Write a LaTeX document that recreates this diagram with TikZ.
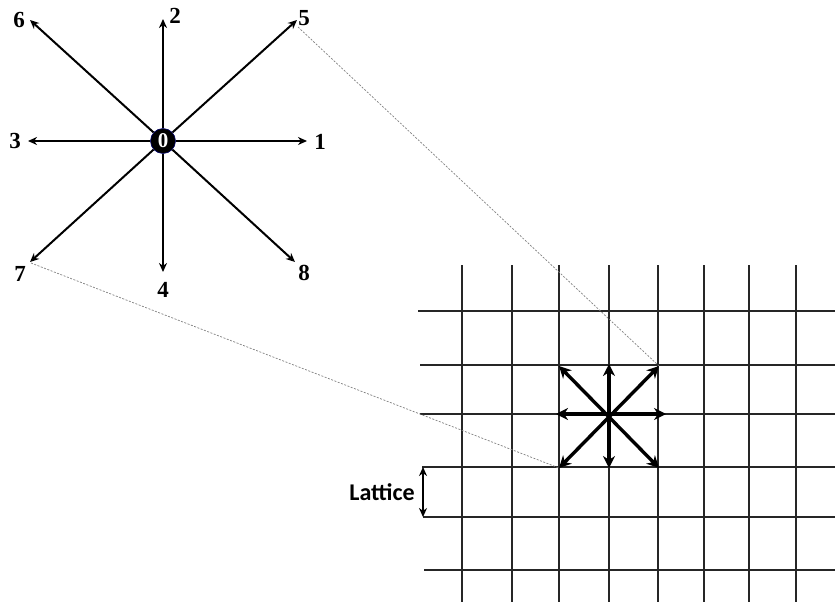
\documentclass[tikz,border=0pt]{standalone}
\usepackage{fontspec}
\setmainfont{Liberation Serif}
\newfontfamily\calfont{Carlito}
\usetikzlibrary{arrows.meta}
\begin{document}
\begin{tikzpicture}[x=1pt,y=-1pt,
  bigarr/.style={line width=2pt,-{Stealth[length=9pt,width=8pt]}},
  smallarr/.style={line width=3.4pt,{Stealth[length=12pt,width=12pt]}-{Stealth[length=12pt,width=12pt]}},
  gridline/.style={line width=1.2pt,black!85},
  num/.style={font=\fontsize{23}{23}\selectfont\bfseries,inner sep=0pt},
  guide/.style={gray,line width=0.7pt,dash pattern=on 2pt off 1.5pt}]
\useasboundingbox (0,0) rectangle (835,602);
% grid
\foreach \x in {462,512,559,609,658,704,749,796} \draw[gridline] (\x,265) -- (\x,602);
\foreach \y/\l in {311/418,365/420,414/420,467/422,517/423,570/424} \draw[gridline] (\l,\y) -- (835,\y);
% big star
\node[circle,fill=black,draw=blue!40!black,line width=0.6pt,minimum size=25pt,inner sep=0pt,
  text=white,font=\fontsize{21}{21}\selectfont\bfseries] (c) at (163,141) {0};
\coordinate (t1) at (307,141);
\coordinate (t2) at (163,19);
\coordinate (t3) at (28,141);
\coordinate (t4) at (163,272);
\coordinate (t5) at (297,20);
\coordinate (t6) at (30,20);
\coordinate (t7) at (30,262);
\coordinate (t8) at (295,262);
\foreach \i in {1,...,8} \draw[bigarr] (c) -- (t\i);
\node[num] (n1) at (320,142) {1};
\node[num] (n2) at (175,16) {2};
\node[num] (n3) at (15,141) {3};
\node[num] (n4) at (163,290) {4};
\node[num] (n5) at (304,18) {5};
\node[num] (n6) at (19,20) {6};
\node[num] (n7) at (20,274) {7};
\node[num] (n8) at (304,273) {8};
% small star
\coordinate (s) at (609,414);
\coordinate (sa) at (556,414);
\coordinate (sb) at (666,414);
\coordinate (sc) at (609,364);
\coordinate (sd) at (609,468);
\coordinate (se) at (559,366);
\coordinate (sf) at (659,468);
\coordinate (sg) at (659,366);
\coordinate (sh) at (559,468);
\draw[smallarr] (sa) -- (sb);
\draw[smallarr] (sc) -- (sd);
\draw[smallarr] (se) -- (sf);
\draw[smallarr] (sg) -- (sh);
% guides
\coordinate (g5) at (298,27);
\coordinate (g7) at (31,263);
\draw[guide] (g5) -- (sg);
\draw[guide] (g7) -- (sh);
% lattice
\coordinate (la) at (423,467);
\coordinate (lb) at (423,517);
\draw[line width=2pt,{Stealth[length=9pt,width=8pt]}-{Stealth[length=9pt,width=8pt]}] (la) -- (lb);
\node[font=\calfont\fontsize{24}{24}\selectfont\bfseries,anchor=east,inner sep=0pt] (lt) at (415,492) {Lattice};
\end{tikzpicture}
\end{document}
